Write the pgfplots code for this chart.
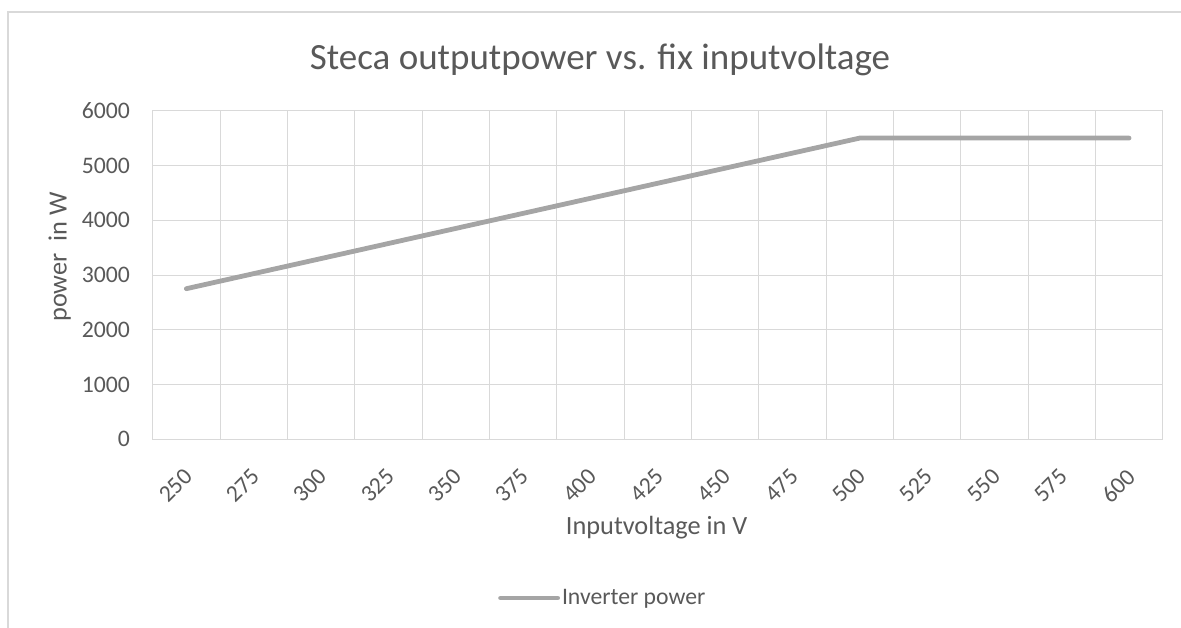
\documentclass[border=0pt]{standalone}
\usepackage{pgfplots}
\pgfplotsset{compat=1.18}
\usepackage{fontspec}
\setmainfont{Carlito}
\definecolor{txt}{HTML}{595959}
\definecolor{grd}{HTML}{D9D9D9}
\definecolor{ln}{HTML}{A5A5A5}
\begin{document}
\begin{tikzpicture}
\useasboundingbox (0,0) rectangle (1181bp,628bp);
\draw[grd, line width=1.2bp] (8bp,0) -- (8bp,616bp) -- (1181bp,616bp);
\begin{axis}[
  at={(152.7bp,188.7bp)}, anchor=south west,
  scale only axis, width=1010bp, height=328.6bp,
  xmin=237.5, xmax=612.5, ymin=0, ymax=6000,
  xtick={250,275,...,600},
  minor xtick={262.5,287.5,312.5,337.5,362.5,387.5,412.5,437.5,462.5,487.5,512.5,537.5,562.5,587.5},
  ytick={0,1000,...,6000},
  xminorgrids=true, ymajorgrids=true, xmajorgrids=false,
  grid style={grd, line width=1bp},
  minor grid style={grd, line width=1bp},
  axis line style={grd, line width=1bp},
  major tick length=0pt, minor tick length=0pt,
  tick style={draw=none},
  /pgf/number format/assume math mode=true,
  /pgf/number format/1000 sep={},
  tick label style={font=\fontsize{23.7bp}{28bp}\selectfont, text=txt},
  yticklabel style={inner sep=0pt, anchor=east, xshift=-22.7bp},
  xticklabel style={inner sep=0pt, xshift=-3.5bp, yshift=-28bp, anchor=north east, rotate=45},
  title={Steca outputpower vs. fix inputvoltage},
  title style={font=\fontsize{37bp}{44bp}\selectfont, text=txt, at={(axis description cs:0.443,1.106)}, anchor=base, inner sep=0pt},
  xlabel={Inputvoltage in V},
  xlabel style={font=\fontsize{26.3bp}{31bp}\selectfont, text=txt, at={(axis description cs:0.499,-0.291)}, anchor=base, inner sep=0pt},
  ylabel={power\ \ in W},
  ylabel style={font=\fontsize{26.3bp}{31bp}\selectfont, text=txt, at={(axis description cs:-0.0853,0.555)}, anchor=base, inner sep=0pt},
  legend style={draw=none, fill=none, inner sep=0pt, at={(axis description cs:0.3419,-0.483)}, anchor=west,
    font=\fontsize{23.7bp}{28bp}\selectfont, text=txt},
  legend cell align=left,
  legend image code/.code={\draw[#1, line cap=round] (0bp,0bp) -- (57bp,0bp);},
]
\addplot[color=ln, line width=4.8bp, line join=round, line cap=round] coordinates {
(250,2750) (275,3025) (300,3300) (325,3575) (350,3850) (375,4125) (400,4400)
(425,4675) (450,4950) (475,5225) (500,5500) (525,5500) (550,5500) (575,5500) (600,5500)
};
\addlegendentry{Inverter power}
\end{axis}
\end{tikzpicture}
\end{document}
